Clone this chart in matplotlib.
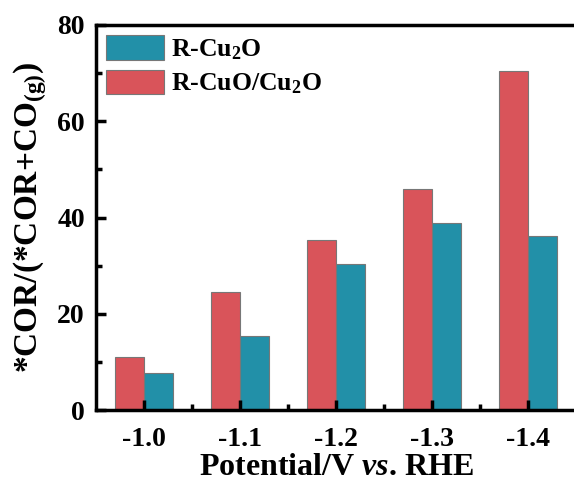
import numpy as np
import matplotlib.pyplot as plt
from matplotlib.ticker import MultipleLocator

potentials = ["-1.0", "-1.1", "-1.2", "-1.3", "-1.4"]
cuo_cu2o = [11.0, 24.6, 35.3, 46.0, 70.4]
cu2o = [7.7, 15.3, 30.3, 38.9, 36.1]

plt.rcParams['font.family'] = 'Liberation Serif'
plt.rcParams['font.weight'] = 'bold'
plt.rcParams['mathtext.fontset'] = 'custom'
plt.rcParams['mathtext.rm'] = 'Liberation Serif:bold'
plt.rcParams['mathtext.it'] = 'Liberation Serif:italic:bold'
plt.rcParams['mathtext.bf'] = 'Liberation Serif:bold'

red = "#D9545A"
teal = "#2290A8"

fig = plt.figure(figsize=(5.74, 4.84), dpi=100)
ax = fig.add_axes([96 / 574, 1 - 410 / 484, 480 / 574, 385 / 484])

x = np.arange(len(potentials))
w = 0.3
ax.bar(x + w / 2, cu2o, w, color=teal, edgecolor="#777777", linewidth=0.8, label="R-Cu$_2$O")
ax.bar(x - w / 2, cuo_cu2o, w, color=red, edgecolor="#777777", linewidth=0.8, label="R-CuO/Cu$_2$O")

ax.set_xlim(-0.5, 4.5)
ax.set_ylim(0, 80)
ax.set_xticks(x)
ax.set_xticklabels(potentials)
ax.set_xticks(x[:-1] + 0.5, minor=True)
ax.yaxis.set_major_locator(MultipleLocator(20))
ax.yaxis.set_minor_locator(MultipleLocator(10))

for s in ax.spines.values():
    s.set_linewidth(2.5)
ax.tick_params(which='both', direction='in', width=2.5, labelsize=20, top=False, right=False)
ax.tick_params(which='major', length=7, pad=8)
ax.tick_params(axis='x', which='major', pad=12)
ax.tick_params(which='minor', length=4)

ax.set_xlabel("Potential/V $\\it{vs}$. RHE", fontsize=23, fontweight='bold', labelpad=1)
ax.set_ylabel("*COR/(*COR+CO$_{\\mathrm{(g)}}$)", fontsize=24, fontweight='bold', labelpad=6)

ax.legend(loc='upper left', frameon=False, fontsize=18.5, handlelength=2.25, handleheight=1.1,
          borderaxespad=0.0, handletextpad=0.25, labelspacing=0.3)

plt.savefig("out.png", dpi=100)
